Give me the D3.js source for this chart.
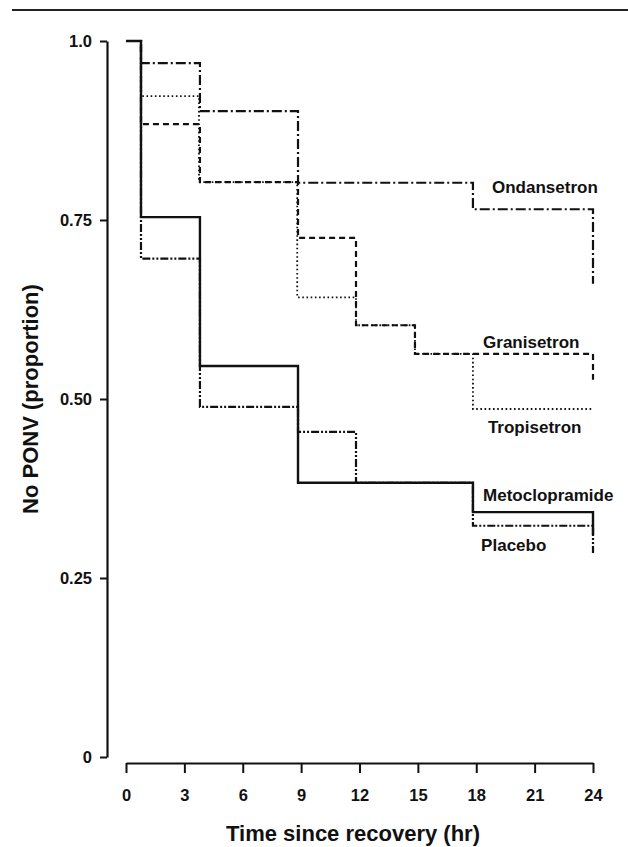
<!DOCTYPE html>
<html>
<head>
<meta charset="utf-8">
<script src="https://d3js.org/d3.v7.min.js"></script>
<style>
  body { margin: 0; background: #fff; }
  text { font-family: "Liberation Sans", Arial, sans-serif; font-weight: bold; fill: #111; }
</style>
</head>
<body>
<svg id="chart" width="628" height="847"></svg>
<script>
// hours after recovery where each curve steps, and the proportion free of PONV
var ondansetronT = [0, 0.77, 3.8, 8.84, 17.83, 24];
var ondansetronV = [1.0, 0.969, 0.902, 0.802, 0.765, 0.661];
var granisetronT = [0, 0.77, 3.8, 8.84, 11.82, 14.85, 24];
var granisetronV = [1.0, 0.884, 0.803, 0.725, 0.603, 0.563, 0.527];
var tropisetronT = [0, 0.77, 3.75, 8.8, 11.82, 14.85, 17.83, 24];
var tropisetronV = [1.0, 0.923, 0.803, 0.642, 0.603, 0.563, 0.486, 0.486];
var metoclopT = [0, 0.77, 3.8, 8.84, 17.83, 24];
var metoclopV = [1.0, 0.754, 0.546, 0.383, 0.342, 0.31];
var placeboT = [0, 0.77, 3.8, 8.84, 11.82, 17.83, 24];
var placeboV = [1.0, 0.696, 0.489, 0.454, 0.383, 0.323, 0.285];

var names = ["Ondansetron", "Granisetron", "Tropisetron", "Metoclopramide", "Placebo"];
// where each name sits, in hours / proportion
var labelT = [18.81, 18.35, 18.6, 18.35, 18.25];
var labelV = [0.796, 0.580, 0.461, 0.366, 0.296];

var xTicks = [0, 3, 6, 9, 12, 15, 18, 21, 24];
var yTicks = [0, 0.25, 0.5, 0.75, 1.0];
var yTickLabels = ["0", "0.25", "0.50", "0.75", "1.0"];

var svg = d3.select("#chart");
var x = d3.scaleLinear().domain([0, 24]).range([126, 593]);
var y = d3.scaleLinear().domain([0, 1]).range([757, 41]);

// top rule
svg.append("line")
  .attr("x1", 12).attr("x2", 628).attr("y1", 10).attr("y2", 10)
  .style("stroke", "#222").style("stroke-width", 2);

// x axis
var xAxis = svg.append("g")
  .attr("transform", "translate(0,763)")
  .call(d3.axisBottom(x).tickValues(xTicks).tickSize(10).tickPadding(16).tickSizeOuter(0));
xAxis.select(".domain").style("stroke", "#111").style("stroke-width", 2.2);
xAxis.selectAll(".tick line").style("stroke", "#111").style("stroke-width", 2);
xAxis.selectAll(".tick text").style("font-size", "16.5px").style("font-family", "Liberation Sans, Arial, sans-serif").style("font-weight", "bold").attr("fill", "#111");

// y axis
var yAxis = svg.append("g")
  .attr("transform", "translate(107,0)")
  .call(d3.axisLeft(y).tickValues(yTicks).tickSize(7).tickPadding(8).tickSizeOuter(0)
    .tickFormat(function(d, i) { return yTickLabels[i]; }));
yAxis.select(".domain").style("stroke", "#111").style("stroke-width", 2.2);
yAxis.selectAll(".tick line").style("stroke", "#111").style("stroke-width", 2);
yAxis.selectAll(".tick text").style("font-size", "16.5px").style("font-family", "Liberation Sans, Arial, sans-serif").style("font-weight", "bold").attr("fill", "#111");

// axis titles
svg.append("text").text("Time since recovery (hr)")
  .attr("x", 353).attr("y", 841)
  .attr("text-anchor", "middle")
  .style("font-size", "22px");
svg.append("text").text("No PONV (proportion)")
  .attr("transform", "translate(38,399) rotate(-90)")
  .attr("text-anchor", "middle")
  .style("font-size", "22px");

var line = d3.line()
  .x(function(d) { return x(d[0]); })
  .y(function(d) { return y(d[1]); })
  .curve(d3.curveStepAfter);

var series = [
  {t: ondansetronT, v: ondansetronV, dash: "10,3,2,3", w: 2.2},
  {t: granisetronT, v: granisetronV, dash: "6,4", w: 2.2},
  {t: tropisetronT, v: tropisetronV, dash: "1.6,2.6", w: 1.8},
  {t: metoclopT, v: metoclopV, dash: null, w: 2.4},
  {t: placeboT, v: placeboV, dash: "8,2,2,2,2,2", w: 2.2}
];

series.forEach(function(s) {
  var pts = s.t.map(function(t, i) { return [t, s.v[i]]; });
  svg.append("path")
    .datum(pts)
    .attr("d", line)
    .style("fill", "none")
    .style("stroke", "#111")
    .style("stroke-width", s.w)
    .style("stroke-dasharray", s.dash);
});

names.forEach(function(n, i) {
  svg.append("text").text(n)
    .attr("x", x(labelT[i]))
    .attr("y", y(labelV[i]))
    .attr("dy", "0.35em")
    .style("font-size", "17px");
});
</script>
</body>
</html>
